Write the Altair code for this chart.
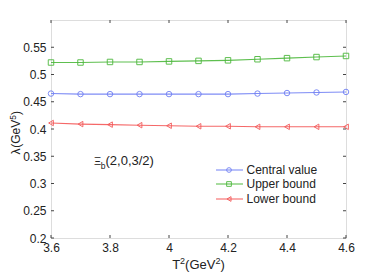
import altair as alt
import pandas as pd

t2 = [3.6, 3.7, 3.8, 3.9, 4.0, 4.1, 4.2, 4.3, 4.4, 4.5, 4.6]
central = [0.465, 0.464, 0.464, 0.464, 0.464, 0.464, 0.464, 0.465, 0.466, 0.467, 0.468]
upper = [0.522, 0.522, 0.523, 0.523, 0.524, 0.525, 0.526, 0.528, 0.530, 0.532, 0.534]
lower = [0.411, 0.409, 0.408, 0.407, 0.406, 0.405, 0.405, 0.404, 0.404, 0.404, 0.404]
series_names = ["Central value", "Upper bound", "Lower bound"]
series_colors = ["#7080f4", "#4cb83c", "#f45858"]
series_shapes = ["circle", "square", "triangle-left"]
x_ticks = [3.6, 3.8, 4.0, 4.2, 4.4, 4.6]
y_ticks = [0.2, 0.25, 0.3, 0.35, 0.4, 0.45, 0.5, 0.55]

W, H = 295, 218
FONT = "Liberation Sans"
TXT = "#222"

rows = []
for name, vals in zip(series_names, [central, upper, lower]):
    for x, y in zip(t2, vals):
        rows.append({"T2": x, "lam": y, "series": name})
df = pd.DataFrame(rows)
one = pd.DataFrame({"k": [0]})

xs = alt.Scale(domain=[3.6, 4.6], nice=False, zero=False)
ys = alt.Scale(domain=[0.2, 0.6], nice=False, zero=False)
cs = alt.Scale(domain=series_names, range=series_colors)
ss = alt.Scale(domain=series_names, range=series_shapes)

xaxis = alt.Axis(values=x_ticks, format="~g", tickSize=0, domain=False, grid=False,
                 labelFont=FONT, labelFontSize=12, labelColor=TXT, labelPadding=4,
                 labelOverlap=False, labelFlush=False, title=None)
yaxis = alt.Axis(values=y_ticks, format="~g", tickSize=0, domain=False, grid=False,
                 labelFont=FONT, labelFontSize=12, labelColor=TXT, labelPadding=5,
                 labelOverlap=False, labelFlush=False, title=None)

def X(field):
    return alt.X(field, scale=xs, axis=xaxis)

def Y(field):
    return alt.Y(field, scale=ys, axis=yaxis)

base = alt.Chart(df)
lines = base.mark_line(strokeWidth=1.1, opacity=0.9).encode(
    x=X("T2:Q"), y=Y("lam:Q"),
    color=alt.Color("series:N", scale=cs, legend=None),
    detail="series:N",
)
points = base.mark_point(size=30, strokeWidth=1, filled=False, opacity=0.9).encode(
    x=X("T2:Q"), y=Y("lam:Q"),
    color=alt.Color("series:N", scale=cs, legend=None),
    shape=alt.Shape("series:N", scale=ss, legend=None),
)

# inward ticks
xt = pd.DataFrame({"T2": x_ticks})
yt = pd.DataFrame({"lam": y_ticks})
tick_color = "#444"
ticks = [
    alt.Chart(xt).mark_rule(color=tick_color, strokeWidth=1).encode(
        x=X("T2:Q"), y=alt.value(H), y2=alt.value(H - 3)),
    alt.Chart(xt).mark_rule(color=tick_color, strokeWidth=1).encode(
        x=X("T2:Q"), y=alt.value(0), y2=alt.value(3)),
    alt.Chart(yt).mark_rule(color=tick_color, strokeWidth=1).encode(
        y=Y("lam:Q"), x=alt.value(0), x2=alt.value(3)),
    alt.Chart(yt).mark_rule(color=tick_color, strokeWidth=1).encode(
        y=Y("lam:Q"), x=alt.value(W), x2=alt.value(W - 3)),
]

def txt(s, x, y, size, angle=0):
    kw = dict(text=s, font=FONT, fontSize=size, color=TXT, align="left", baseline="alphabetic")
    if angle:
        kw["angle"] = angle
    return alt.Chart(one).mark_text(**kw).encode(x=alt.value(x), y=alt.value(y))

# legend (manual)
leg = []
leg_y = [150, 164, 179]
for name, col, shp, ly in zip(series_names, series_colors, series_shapes, leg_y):
    leg.append(alt.Chart(one).mark_rule(color=col, strokeWidth=1.1, opacity=0.9).encode(
        x=alt.value(165), x2=alt.value(192), y=alt.value(ly)))
    leg.append(alt.Chart(one).mark_point(color=col, shape=shp, size=22, filled=False,
                                         strokeWidth=1, opacity=0.9).encode(
        x=alt.value(178), y=alt.value(ly)))
    leg.append(alt.Chart(one).mark_text(text=name, font=FONT, fontSize=12, color=TXT,
                                        align="left", baseline="middle").encode(
        x=alt.value(195.5), y=alt.value(ly)))

# annotation Xi_b(2,0,3/2)
ann = [
    txt("Ξ", 43, 145.3, 11),
    txt("b", 49.7, 149, 8.5),
    txt("(2,0,3/2)", 54.5, 145.3, 13),
]

# axis titles with superscripts
xb = 249
titles = [
    txt("T", 121.2, xb, 13),
    txt("2", 129.1, xb - 5, 9),
    txt("(GeV", 134.1, xb, 13),
    txt("2", 164.4, xb - 5, 9),
    txt(")", 169.4, xb, 13),
]
yx = -31
titles += [
    txt("λ", yx, 134.5, 12, 270),
    txt("(GeV", yx, 127.8, 12, 270),
    txt("5", yx - 4.5, 99.8, 8.5, 270),
    txt(")", yx, 95.1, 12, 270),
]

chart = alt.layer(lines, points, *ticks, *leg, *ann, *titles).properties(
    width=W, height=H,
    padding={"left": 43, "top": 12, "right": 28, "bottom": 35},
    autosize=alt.AutoSizeParams(type="none"),
).configure_view(stroke="#444", strokeWidth=1).configure(background="white")

chart.save("out.html", embed_options={"renderer": "svg", "actions": False})
